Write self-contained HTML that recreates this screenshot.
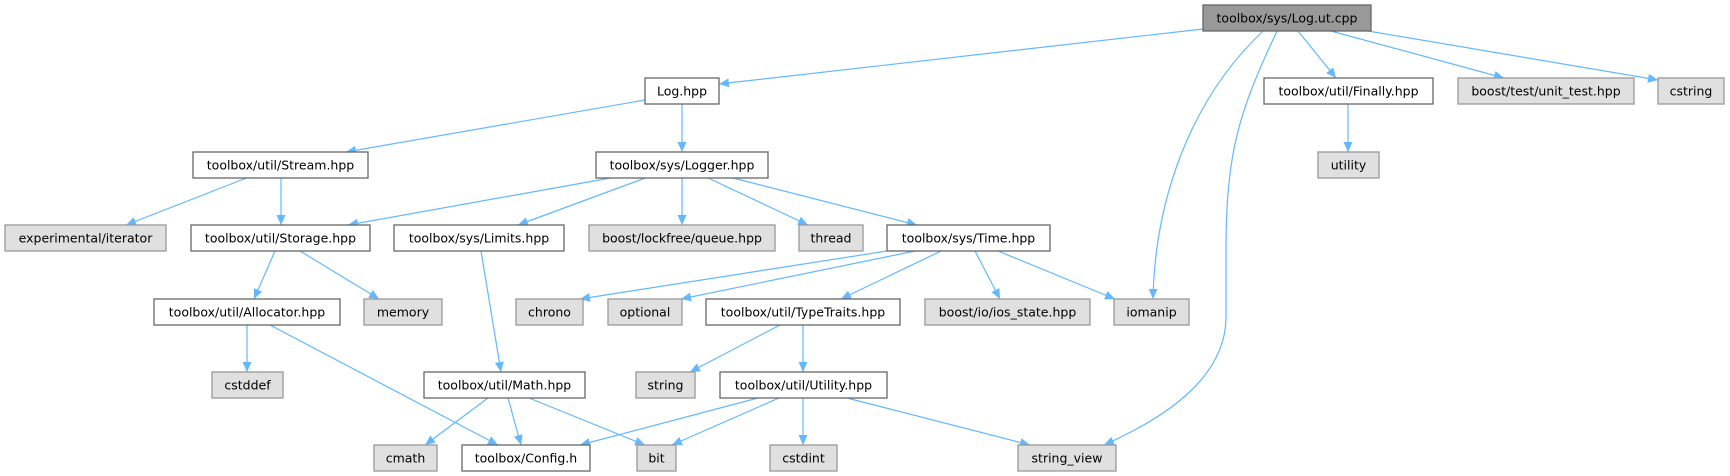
<!DOCTYPE html>
<html><head><meta charset="utf-8"><style>
html,body{margin:0;padding:0;background:#fff;}
svg{display:block;}
text{font-family:"DejaVu Sans","Liberation Sans",sans-serif;font-size:12.5px;fill:#000;text-anchor:middle;}
.w{fill:#fff;stroke:#666;stroke-width:1.3;}
.g{fill:#e0e0e0;stroke:#999;stroke-width:1.3;}
.r{fill:#999;stroke:#666;stroke-width:1.3;}
.e{fill:none;stroke:#63b8ff;stroke-width:1.2;}
</style></head><body>
<svg width="1730" height="476" viewBox="0 0 1730 476" xmlns="http://www.w3.org/2000/svg">
<defs><marker id="a" markerUnits="userSpaceOnUse" markerWidth="11" markerHeight="9" refX="10" refY="4.5" orient="auto"><path d="M0,0 L10,4.5 L0,9 z" fill="#63b8ff"/></marker></defs>
<g marker-end="url(#a)">
<path class="e" d="M1203,29 L719,84"/>
<path class="e" d="M1298,31 L1336,78"/>
<path class="e" d="M1331,31 L1504,78"/>
<path class="e" d="M1368,31 L1658,80"/>
<path class="e" d="M1263,31 C1190,100 1155,200 1153,299"/>
<path class="e" d="M1277,31 C1240,110 1226,150 1226,250 L1226,317 C1226,380 1160,420 1104,445"/>
<path class="e" d="M1348,104 L1348,152"/>
<path class="e" d="M645,100 L346,152"/>
<path class="e" d="M682,104 L682,152"/>
<path class="e" d="M249,177 L126,225"/>
<path class="e" d="M281,177 L281,225"/>
<path class="e" d="M616,177 L348,225"/>
<path class="e" d="M648,177 L518,225"/>
<path class="e" d="M682,177 L682,225"/>
<path class="e" d="M706,177 L808,225"/>
<path class="e" d="M729,177 L917,225"/>
<path class="e" d="M275,251 L254,299"/>
<path class="e" d="M300,251 L379,299"/>
<path class="e" d="M481,251 L501,372"/>
<path class="e" d="M247,325 L247,372"/>
<path class="e" d="M270,325 L498,445"/>
<path class="e" d="M488,398 L425,445"/>
<path class="e" d="M508,398 L521,445"/>
<path class="e" d="M529,398 L645,445"/>
<path class="e" d="M887,251 L580,299"/>
<path class="e" d="M915,251 L681,299"/>
<path class="e" d="M941,251 L841,299"/>
<path class="e" d="M975,251 L1000,299"/>
<path class="e" d="M998,251 L1115,299"/>
<path class="e" d="M780,325 L690,372"/>
<path class="e" d="M803,325 L803,372"/>
<path class="e" d="M758,398 L580,445"/>
<path class="e" d="M779,398 L672,445"/>
<path class="e" d="M803,398 L803,445"/>
<path class="e" d="M847,398 L1030,445"/>
</g>
<rect class="r" x="1203" y="5" width="168" height="26"/><text x="1287" y="22.5">toolbox/sys/Log.ut.cpp</text>
<rect class="w" x="645" y="78" width="74" height="26"/><text x="682" y="95.5">Log.hpp</text>
<rect class="w" x="1264" y="78" width="169" height="26"/><text x="1348.5" y="95.5">toolbox/util/Finally.hpp</text>
<rect class="g" x="1458" y="78" width="176" height="26"/><text x="1546" y="95.5">boost/test/unit_test.hpp</text>
<rect class="g" x="1658" y="78" width="66" height="26"/><text x="1691" y="95.5">cstring</text>
<rect class="w" x="193" y="152" width="175" height="26"/><text x="280.5" y="169.5">toolbox/util/Stream.hpp</text>
<rect class="w" x="596" y="152" width="172" height="26"/><text x="682" y="169.5">toolbox/sys/Logger.hpp</text>
<rect class="g" x="1318" y="152" width="61" height="26"/><text x="1348.5" y="169.5">utility</text>
<rect class="g" x="5" y="225" width="161" height="26"/><text x="85.5" y="242.5">experimental/iterator</text>
<rect class="w" x="191" y="225" width="179" height="26"/><text x="280.5" y="242.5">toolbox/util/Storage.hpp</text>
<rect class="w" x="394" y="225" width="170" height="26"/><text x="479" y="242.5">toolbox/sys/Limits.hpp</text>
<rect class="g" x="589" y="225" width="186" height="26"/><text x="682" y="242.5">boost/lockfree/queue.hpp</text>
<rect class="g" x="799" y="225" width="64" height="26"/><text x="831" y="242.5">thread</text>
<rect class="w" x="887" y="225" width="163" height="26"/><text x="968.5" y="242.5">toolbox/sys/Time.hpp</text>
<rect class="w" x="154" y="299" width="186" height="26"/><text x="247" y="316.5">toolbox/util/Allocator.hpp</text>
<rect class="g" x="364" y="299" width="78" height="26"/><text x="403" y="316.5">memory</text>
<rect class="g" x="516" y="299" width="67" height="26"/><text x="549.5" y="316.5">chrono</text>
<rect class="g" x="608" y="299" width="74" height="26"/><text x="645" y="316.5">optional</text>
<rect class="w" x="706" y="299" width="194" height="26"/><text x="803" y="316.5">toolbox/util/TypeTraits.hpp</text>
<rect class="g" x="925" y="299" width="165" height="26"/><text x="1007.5" y="316.5">boost/io/ios_state.hpp</text>
<rect class="g" x="1114" y="299" width="75" height="26"/><text x="1151.5" y="316.5">iomanip</text>
<rect class="g" x="212" y="372" width="71" height="26"/><text x="247.5" y="389.5">cstddef</text>
<rect class="w" x="424" y="372" width="161" height="26"/><text x="504.5" y="389.5">toolbox/util/Math.hpp</text>
<rect class="g" x="636" y="372" width="59" height="26"/><text x="665.5" y="389.5">string</text>
<rect class="w" x="720" y="372" width="167" height="26"/><text x="803.5" y="389.5">toolbox/util/Utility.hpp</text>
<rect class="g" x="374" y="445" width="63" height="26"/><text x="405.5" y="462.5">cmath</text>
<rect class="w" x="462" y="445" width="128" height="26"/><text x="526" y="462.5">toolbox/Config.h</text>
<rect class="g" x="637" y="445" width="39" height="26"/><text x="656.5" y="462.5">bit</text>
<rect class="g" x="770" y="445" width="67" height="26"/><text x="803.5" y="462.5">cstdint</text>
<rect class="g" x="1018" y="445" width="98" height="26"/><text x="1067" y="462.5">string_view</text>
</svg>
</body></html>
